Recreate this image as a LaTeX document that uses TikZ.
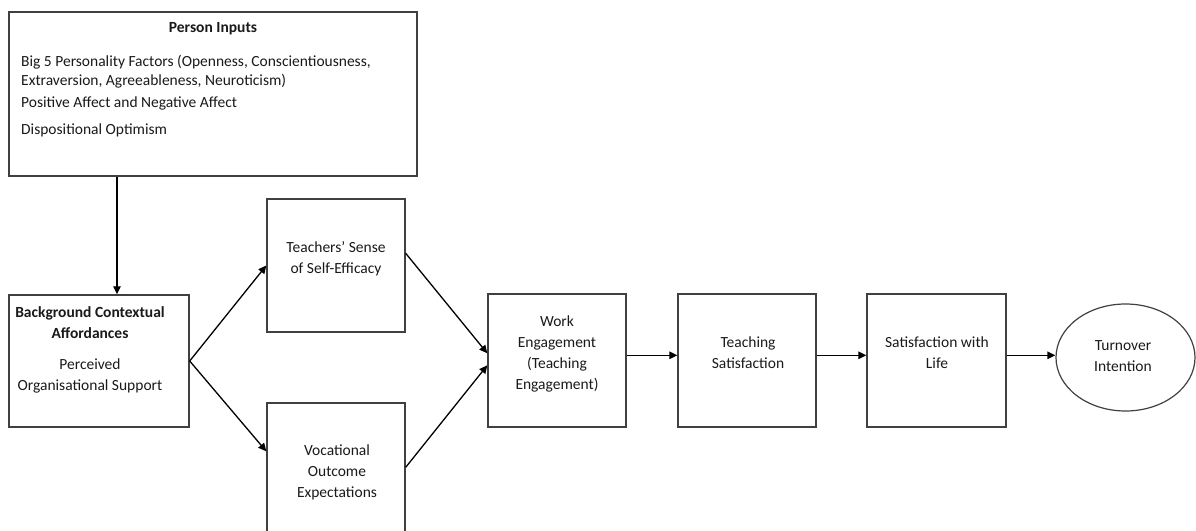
\documentclass[tikz,border=0pt]{standalone}
\usepackage{fontspec}
\setmainfont{Carlito}
\usetikzlibrary{arrows.meta,shapes.geometric}
\definecolor{boxgray}{HTML}{404040}
\definecolor{txt}{HTML}{1A1A1A}
\begin{document}
\begin{tikzpicture}[x=1pt,y=-1pt,
  box/.style={draw=boxgray,line width=1.4pt,inner sep=0pt,fill=white},
  lbl/.style={inner sep=0pt,text=txt,font=\fontsize{15.5}{21}\selectfont,align=center},
  lline/.style={inner sep=0pt,text=txt,font=\fontsize{15.5}{21}\selectfont,anchor=mid west},
  arr/.style={line width=1.3pt,-{Triangle[length=8pt,width=7.5pt]}}
]
\useasboundingbox (0,0) rectangle (1196,530);
\clip (0,0) rectangle (1196,530);
% boxes
\node[box,minimum width=408pt,minimum height=164pt] (pi) at (213,94) {};
\node[box,minimum width=180pt,minimum height=132pt] (bg) at (99,361) {};
\node[box,minimum width=138pt,minimum height=133pt] (tse) at (336,265.5) {};
\node[box,minimum width=138pt,minimum height=133pt] (voc) at (336,469.5) {};
\node[box,minimum width=138pt,minimum height=133pt] (we) at (557,360.5) {};
\node[box,minimum width=138pt,minimum height=133pt] (ts) at (747,360.5) {};
\node[box,minimum width=139pt,minimum height=133pt] (sl) at (936.5,360.5) {};
\node[ellipse,draw=boxgray,line width=1.2pt,inner sep=0pt,minimum width=139pt,minimum height=107pt] (ti) at (1125.5,357.5) {};
% texts
\node[lbl,font=\fontsize{15.5}{21}\selectfont\bfseries] (pit) at (213,29) {Person Inputs};
\node[lline] (pi1) at (21,64) {Big 5 Personality Factors (Openness, Conscientiousness,};
\node[lline] (pi2) at (21,83) {Extraversion, Agreeableness, Neuroticism)};
\node[lline] (pi3) at (21,105) {Positive Affect and Negative Affect};
\node[lline] (pi4) at (21,132) {Dispositional Optimism};
\node[lbl,font=\fontsize{15.5}{21}\selectfont\bfseries] (bgt) at (90,322.5) {Background Contextual\\Affordances};
\node[lbl] (bgs) at (90,375.5) {Perceived\\Organisational Support};
\node[lbl] (tset) at (336,258.5) {Teachers’ Sense\\of Self-Efficacy};
\node[lbl] (voct) at (337,472) {Vocational\\Outcome\\Expectations};
\node[lbl] (wet) at (557,354) {Work\\Engagement\\(Teaching\\Engagement)};
\node[lbl] (tst) at (748,353) {Teaching\\Satisfaction};
\node[lbl] (slt) at (937,353) {Satisfaction with\\Life};
\node[lbl] (tit) at (1123,356) {Turnover\\Intention};
% connectors
\coordinate (slout) at ([yshift=-62pt]sl.north east);
\draw[arr] (117,0 |- pi.south) -- (117,0 |- bg.north);
\draw[arr] (bg.east) -- (tse.west);
\draw[arr] (bg.east) -- ([yshift=-49pt]voc.north west);
\draw[arr] ([yshift=-55pt]tse.north east) -- ([yshift=-60pt]we.north west);
\draw[arr] ([yshift=-65pt]voc.north east) -- ([yshift=-72pt]we.north west);
\draw[arr] ([yshift=-62pt]we.north east) -- ([yshift=-62pt]ts.north west);
\draw[arr] ([yshift=-62pt]ts.north east) -- ([yshift=-62pt]sl.north west);
\draw[arr] (slout) -- (ti.west |- slout);
\end{tikzpicture}
\end{document}
